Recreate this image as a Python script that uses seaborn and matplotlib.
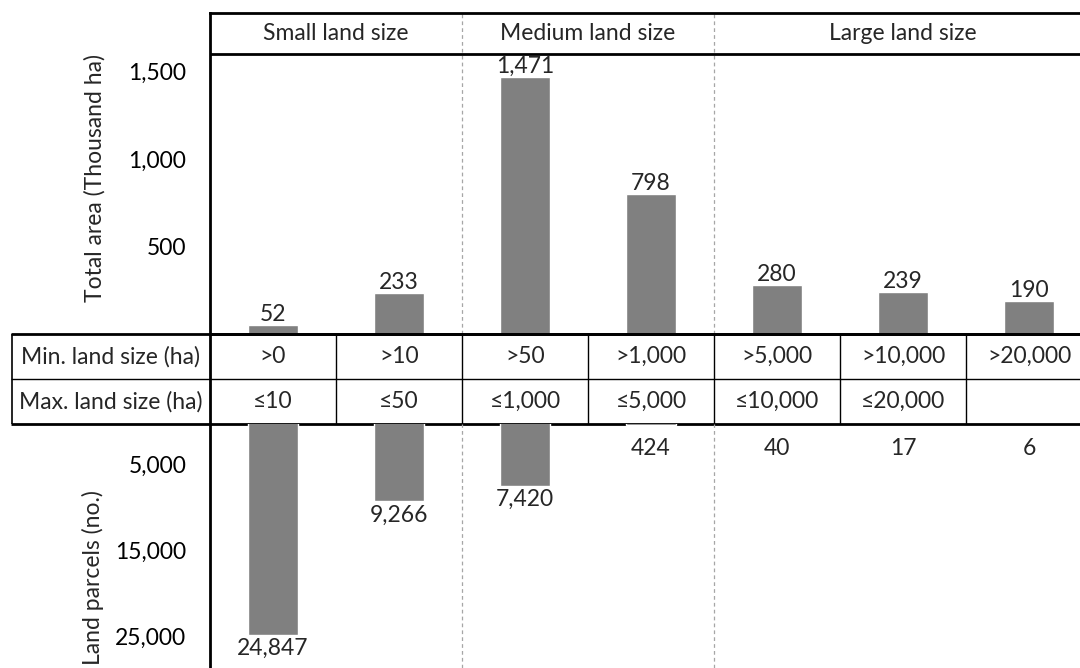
import matplotlib
matplotlib.use("Agg")
import matplotlib.pyplot as plt
import pandas as pd
import seaborn as sns

# %% data
categories = ["c1", "c2", "c3", "c4", "c5", "c6", "c7"]
min_size = [">0", ">10", ">50", ">1,000", ">5,000", ">10,000", ">20,000"]
max_size = ["≤10", "≤50", "≤1,000", "≤5,000", "≤10,000", "≤20,000", ""]
total_area = [52, 233, 1471, 798, 280, 239, 190]          # thousand ha
land_parcels = [24847, 9266, 7420, 424, 40, 17, 6]        # no.
group_names = ["Small land size", "Medium land size", "Large land size"]
group_members = [[0, 1], [2, 3], [4, 5, 6]]
row_labels = ["Min. land size (ha)", "Max. land size (ha)"]
area_ticks = [500, 1000, 1500]
parcel_ticks = [5000, 15000, 25000]

# %% style
sns.set_theme(style="white")
plt.rcParams["font.family"] = ["Lato", "DejaVu Sans"]
FS = 16.5
BAR = "#808080"
W, H = 1080, 668


def px(x0, y0, x1, y1):
    return [x0 / W, 1 - y1 / H, (x1 - x0) / W, (y1 - y0) / H]


fig = plt.figure(figsize=(W / 100, H / 100), dpi=100)
fig.patch.set_facecolor("white")

ax_top = fig.add_axes(px(210, 13, W, 334))
ax_tab = fig.add_axes(px(11, 334, W, 424))
ax_bot = fig.add_axes(px(210, 424, W, 668))

col_w = 126  # px per category
xlim = (-0.5, -0.5 + (W - 210) / col_w)
label_left = -0.5 - (210 - 11) / col_w
boundaries = [m[-1] + 0.5 for m in group_members[:-1]]

# %% top panel: total area
df_area = pd.DataFrame({"cat": categories, "area": total_area})
sns.barplot(data=df_area, x="cat", y="area", color=BAR, saturation=1,
            width=0.4, ax=ax_top)
ax_top.set_xlim(*xlim)
ax_top.set_ylim(0, 1834)
ax_top.bar_label(ax_top.containers[0],
                 labels=[f"{v:,}" for v in total_area],
                 padding=0, fontsize=FS)
ax_top.axhline(1600, color="black", lw=2)
for name, members in zip(group_names, group_members):
    ax_top.text(sum(members) / len(members), 1717, name,
                ha="center", va="center", fontsize=FS)
ax_top.set_yticks(area_ticks)
ax_top.set_yticklabels([f"{t:,}" for t in area_ticks])
ax_top.set_xticks([])
ax_top.set_xlabel("")
ax_top.set_ylabel("")
for side in ["left", "top", "bottom"]:
    ax_top.spines[side].set_color("black")
    ax_top.spines[side].set_linewidth(2)
ax_top.spines["right"].set_visible(False)

# %% bottom panel: land parcels (downwards)
df_parc = pd.DataFrame({"cat": categories, "parcels": land_parcels})
sns.barplot(data=df_parc, x="cat", y="parcels", color=BAR, saturation=1,
            width=0.4, ax=ax_bot)
ax_bot.set_xlim(*xlim)
ax_bot.set_ylim(28688, 250)
for i, v in enumerate(land_parcels):
    ax_bot.text(i, max(v, 1450) + 1600, f"{v:,}",
                ha="center", va="center", fontsize=FS)
ax_bot.set_yticks(parcel_ticks)
ax_bot.set_yticklabels([f"{t:,}" for t in parcel_ticks])
ax_bot.set_xticks([])
ax_bot.set_xlabel("")
ax_bot.set_ylabel("")
for side in ["top", "bottom", "right"]:
    ax_bot.spines[side].set_visible(False)
ax_bot.spines["left"].set_color("black")
ax_bot.spines["left"].set_linewidth(2)

for ax in (ax_top, ax_bot):
    ax.tick_params(axis="y", length=0, pad=17, labelsize=FS,
                   labelcolor="black")
    ax.patch.set_alpha(0)
    for b in boundaries:
        ax.axvline(b, color="#a6a6a6", lw=0.9, ls=(0, (3, 2.5)), zorder=0)

# %% middle table
ax_tab.set_xlim(label_left, xlim[1])
ax_tab.set_ylim(len(row_labels), 0)
ax_tab.axis("off")
ax_tab.hlines([1], label_left, xlim[1], color="black", lw=1, clip_on=False)
ax_tab.hlines([0, len(row_labels)], label_left, xlim[1], color="black",
              lw=2, clip_on=False)
cell_edges = [i + 0.5 for i in range(len(categories) - 1)]
ax_tab.vlines(cell_edges, 0, len(row_labels), color="black", lw=1,
              clip_on=False)
ax_tab.vlines([label_left + 0.008], 0, len(row_labels), color="black",
              lw=1.2, clip_on=False)
ax_tab.vlines([-0.5], 0, len(row_labels), color="black", lw=2,
              clip_on=False)
for r, (lab, row) in enumerate(zip(row_labels, [min_size, max_size])):
    ax_tab.text((label_left - 0.5) / 2, r + 0.5, lab,
                ha="center", va="center", fontsize=FS)
    for i, txt in enumerate(row):
        ax_tab.text(i, r + 0.5, txt, ha="center", va="center", fontsize=FS)

# %% axis titles
fig.text(95 / W, 1 - 178 / H, "Total area (Thousand ha)", rotation=90,
         ha="center", va="center", fontsize=FS)
fig.text(93 / W, 1 - 578 / H, "Land parcels (no.)", rotation=90,
         ha="center", va="center", fontsize=FS)

fig.savefig("out.png", dpi=100, facecolor="white")
